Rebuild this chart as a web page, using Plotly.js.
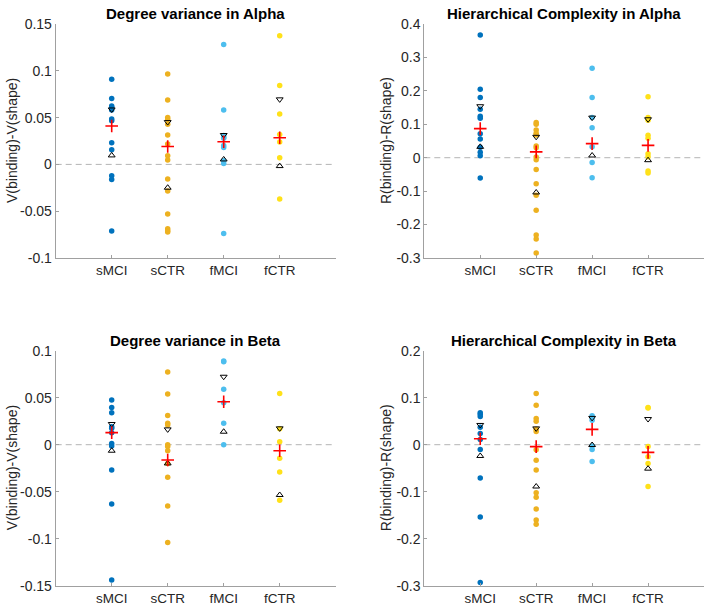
<!DOCTYPE html>
<html>
<head>
<meta charset="utf-8">
<script src="https://cdn.plot.ly/plotly-3.0.1.min.js"></script>
<style>
  html, body { margin: 0; padding: 0; background: white; }
  #chart { width: 708px; height: 611px; }
</style>
</head>
<body>
<div id="chart"></div>
<script>
// Group labels and colours (MATLAB-ish palette)
const GROUPS = ['sMCI', 'sCTR', 'fMCI', 'fCTR'];
const GROUP_COLORS = ['#0072BD', '#EDB120', '#4DBEEE', '#FFE119'];

// ── Degree variance in Alpha ──
const dvAlpha_sMCI = [0.091, 0.0705, 0.0623, 0.061, 0.058, 0.0484, 0.0466, 0.0231, 0.0157, -0.0121, -0.016, -0.0712];
const dvAlpha_sCTR = [0.0965, 0.0687, 0.0502, 0.048, 0.043, 0.0313, 0.0217, 0.0093, 0.0046, -0.0157, -0.0285, -0.053, -0.0687, -0.0708, -0.0723];
const dvAlpha_fMCI = [0.128, 0.058, 0.031, 0.029, 0.028, 0.0203, 0.018, 0.004, 0.001, -0.0737];
const dvAlpha_fCTR = [0.1375, 0.0844, 0.0538, 0.032, 0.024, 0.0071, -0.037];
const dvAlpha_mean = [0.041, 0.0192, 0.0242, 0.0285];
const dvAlpha_upper = [0.0587, 0.0452, 0.0314, 0.0695];
const dvAlpha_lower = [0.0096, -0.0249, 0.0053, -0.0018];

// ── Hierarchical Complexity in Alpha ──
const hcAlpha_sMCI = [0.367, 0.205, 0.18, 0.145, 0.124, 0.118, 0.072, 0.056, 0.031, 0.016, 0.006, -0.061];
const hcAlpha_sCTR = [0.105, 0.1, 0.083, 0.073, 0.068, 0.035, 0.03, 0.002, -0.006, -0.035, -0.078, -0.112, -0.157, -0.231, -0.243, -0.285];
const hcAlpha_fMCI = [0.268, 0.18, 0.12, 0.09, 0.033, -0.014, -0.06];
const hcAlpha_fCTR = [0.182, 0.12, 0.112, 0.067, 0.058, 0.012, 0.003, -0.04, -0.046];
const hcAlpha_mean = [0.087, 0.0175, 0.042, 0.037];
const hcAlpha_upper = [0.154, 0.0625, 0.12, 0.115];
const hcAlpha_lower = [0.0325, -0.104, 0.0066, -0.0074];

// ── Degree variance in Beta ──
const dvBeta_sMCI = [0.0475, 0.0397, 0.034, 0.0191, 0.0174, 0.0128, 0.0014, -0.0014, -0.027, -0.063, -0.144];
const dvBeta_sCTR = [0.0773, 0.054, 0.031, 0.0227, 0.021, 0.0, -0.002, -0.0064, -0.02, -0.0347, -0.0652, -0.104];
const dvBeta_fMCI = [0.089, 0.0883, 0.0589, 0.0447, 0.0227, 0.0];
const dvBeta_fCTR = [0.0546, 0.017, 0.0032, -0.0145, -0.029, -0.059];
const dvBeta_mean = [0.0128, -0.0163, 0.0457, -0.0064];
const dvBeta_upper = [0.022, 0.0163, 0.0723, 0.0174];
const dvBeta_lower = [-0.0064, -0.0199, 0.0138, -0.0535];

// ── Hierarchical Complexity in Beta ──
const hcBeta_sMCI = [0.068, 0.065, 0.06, 0.037, 0.024, 0.011, -0.01, -0.071, -0.154, -0.293];
const hcBeta_sCTR = [0.109, 0.0837, 0.056, 0.05, 0.033, 0.028, -0.011, -0.033, -0.054, -0.102, -0.112, -0.137, -0.16, -0.169];
const hcBeta_fMCI = [0.0617, 0.058, 0.052, -0.003, -0.01, -0.036];
const hcBeta_fCTR = [0.079, 0.078, -0.004, -0.0255, -0.04, -0.089];
const hcBeta_mean = [0.0128, -0.004, 0.0326, -0.0163];
const hcBeta_upper = [0.042, 0.0347, 0.057, 0.0546];
const hcBeta_lower = [-0.024, -0.089, -0.0007, -0.051];

// Axis ticks
const dvAlphaTicks = [-0.1, -0.05, 0, 0.05, 0.1, 0.15];
const hcAlphaTicks = [-0.3, -0.2, -0.1, 0, 0.1, 0.2, 0.3, 0.4];
const dvBetaTicks = [-0.15, -0.1, -0.05, 0, 0.05, 0.1];
const hcBetaTicks = [-0.3, -0.2, -0.1, 0, 0.1, 0.2];

const TITLES = ['Degree variance in Alpha', 'Hierarchical Complexity in Alpha',
                'Degree variance in Beta', 'Hierarchical Complexity in Beta'];
const YLABELS = ['V(binding)-V(shape)', 'R(binding)-R(shape)',
                 'V(binding)-V(shape)', 'R(binding)-R(shape)'];

const panels = [
    { groups: [dvAlpha_sMCI, dvAlpha_sCTR, dvAlpha_fMCI, dvAlpha_fCTR], mean: dvAlpha_mean, upper: dvAlpha_upper, lower: dvAlpha_lower, ticks: dvAlphaTicks },
    { groups: [hcAlpha_sMCI, hcAlpha_sCTR, hcAlpha_fMCI, hcAlpha_fCTR], mean: hcAlpha_mean, upper: hcAlpha_upper, lower: hcAlpha_lower, ticks: hcAlphaTicks },
    { groups: [dvBeta_sMCI, dvBeta_sCTR, dvBeta_fMCI, dvBeta_fCTR], mean: dvBeta_mean, upper: dvBeta_upper, lower: dvBeta_lower, ticks: dvBetaTicks },
    { groups: [hcBeta_sMCI, hcBeta_sCTR, hcBeta_fMCI, hcBeta_fCTR], mean: hcBeta_mean, upper: hcBeta_upper, lower: hcBeta_lower, ticks: hcBetaTicks },
];

// ── Layout geometry (pixels in a 708x611 figure) ──
const W = 708, H = 611;
const COLS = [[55.7, 335.7], [424.3, 704]];
const ROWS = [[24, 258], [350.7, 585.7]];
const FONT = 'Liberation Sans, Arial, Helvetica, sans-serif';
const AXIS_GREY = '#a0a0a0';
const TEXT = '#262626';

const fmt = v => String(v);  // plain hyphen minus like MATLAB

const traces = [];
const layout = {
    width: W, height: H,
    margin: { l: 0, r: 0, t: 0, b: 0 },
    paper_bgcolor: 'white', plot_bgcolor: 'white',
    showlegend: false,
    font: { family: FONT, color: TEXT, size: 14 },
    shapes: [], annotations: [],
};

panels.forEach((p, i) => {
    const col = i % 2, row = Math.floor(i / 2);
    const sfx = i === 0 ? '' : String(i + 1);
    const xa = 'x' + sfx, ya = 'y' + sfx;
    const [x0, x1] = COLS[col], [y0, y1] = ROWS[row];

    p.groups.forEach((vals, g) => {
        traces.push({
            x: vals.map(() => g + 1), y: vals, xaxis: xa, yaxis: ya,
            type: 'scatter', mode: 'markers',
            marker: { size: 5.5, color: GROUP_COLORS[g], line: { width: 0 } },
            hoverinfo: 'y',
        });
    });
    const xs = GROUPS.map((_, g) => g + 1);
    traces.push({ x: xs, y: p.upper, xaxis: xa, yaxis: ya, mode: 'markers',
        marker: { symbol: 'triangle-down-open', size: 6, color: 'black', line: { width: 1, color: 'black' } } });
    traces.push({ x: xs, y: p.lower, xaxis: xa, yaxis: ya, mode: 'markers',
        marker: { symbol: 'triangle-up-open', size: 6, color: 'black', line: { width: 1, color: 'black' } } });
    traces.push({ x: xs, y: p.mean, xaxis: xa, yaxis: ya, mode: 'markers',
        marker: { symbol: 'cross-thin-open', size: 9, color: '#ff0000', line: { width: 1.6, color: '#ff0000' } } });

    layout['xaxis' + sfx] = {
        domain: [x0 / W, x1 / W], anchor: ya,
        range: [0, 5], tickvals: xs, ticktext: GROUPS,
        showgrid: false, zeroline: false, showline: true, linecolor: AXIS_GREY, linewidth: 1,
        ticks: 'inside', ticklen: 3, tickcolor: AXIS_GREY,
        tickfont: { size: 13.5, color: TEXT, family: FONT }, fixedrange: true,
    };
    layout['yaxis' + sfx] = {
        domain: [1 - y1 / H, 1 - y0 / H], anchor: xa,
        range: [p.ticks[0], p.ticks[p.ticks.length - 1]],
        tickvals: p.ticks, ticktext: p.ticks.map(fmt),
        showgrid: false, zeroline: false, showline: true, linecolor: AXIS_GREY, linewidth: 1,
        ticks: 'inside', ticklen: 3, tickcolor: AXIS_GREY,
        tickfont: { size: 14, color: TEXT, family: FONT }, fixedrange: true,
    };

    layout.shapes.push({
        type: 'line', xref: xa, yref: ya, x0: 0, x1: 5, y0: 0, y1: 0,
        line: { color: '#b4b4b4', width: 1, dash: '6px,4px' }, layer: 'below',
    });

    layout.annotations.push({
        text: '<b>' + TITLES[i] + '</b>', xref: 'paper', yref: 'paper',
        x: (x0 + x1) / 2 / W, y: 1 - (row === 0 ? 13 : 340) / H,
        xanchor: 'center', yanchor: 'middle', showarrow: false,
        font: { size: 15, color: '#000000', family: FONT },
    });
    layout.annotations.push({
        text: YLABELS[i], xref: 'paper', yref: 'paper',
        x: (col === 0 ? 12 : 386) / W, y: 1 - (y0 + y1) / 2 / H,
        xanchor: 'center', yanchor: 'middle', textangle: -90, showarrow: false,
        font: { size: 14, color: TEXT, family: FONT },
    });
});

Plotly.newPlot('chart', traces, layout, { displayModeBar: false, staticPlot: true });
</script>
</body>
</html>
